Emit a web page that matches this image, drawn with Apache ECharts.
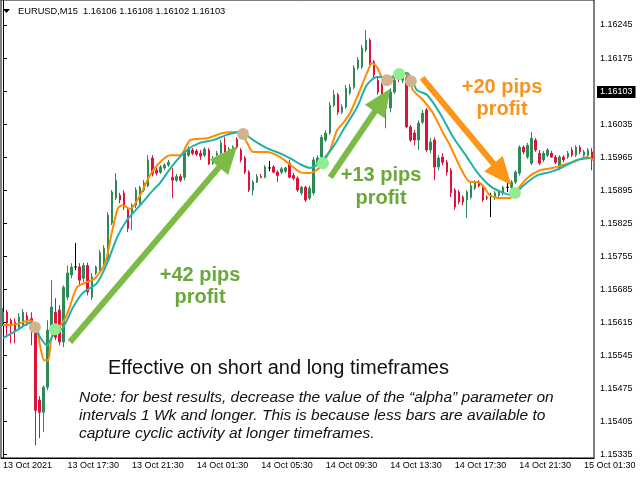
<html>
<head>
<meta charset="UTF-8">
<script src="https://cdn.jsdelivr.net/npm/echarts@6/dist/echarts.min.js"></script>
<style>
html,body{margin:0;padding:0;background:#fff;}
#chart{width:640px;height:480px;}
</style>
</head>
<body>
<div id="chart"></div>
<script type="text/javascript">
// EURUSD M15 candles: [open, close, low, high]
var candles = [
  [1.15615,1.15636,1.15607,1.15645],[1.15636,1.15613,1.15587,1.15641],[1.15619,1.15607,1.15570,1.15623],[1.15615,1.15598,1.15570,1.15623],
  [1.15604,1.15626,1.15598,1.15634],[1.15609,1.15636,1.15602,1.15643],[1.15628,1.15615,1.15607,1.15636],[1.15623,1.15604,1.15566,1.15636],
  [1.15604,1.15428,1.15354,1.15609],[1.15450,1.15424,1.15369,1.15458],[1.15424,1.15477,1.15382,1.15481],[1.15477,1.15598,1.15471,1.15619],
  [1.15598,1.15647,1.15594,1.15704],[1.15636,1.15583,1.15577,1.15666],[1.15641,1.15573,1.15566,1.15651],[1.15573,1.15689,1.15562,1.15693],
  [1.15668,1.15719,1.15662,1.15735],[1.15715,1.15732,1.15708,1.15740],[1.15732,1.15732,1.15725,1.15783],[1.15732,1.15704,1.15693,1.15740],
  [1.15708,1.15735,1.15700,1.15741],[1.15735,1.15679,1.15672,1.15741],[1.15668,1.15711,1.15662,1.15719],[1.15719,1.15732,1.15715,1.15735],
  [1.15725,1.15762,1.15719,1.15768],[1.15740,1.15772,1.15734,1.15778],[1.15747,1.15842,1.15741,1.15848],[1.15825,1.15891,1.15821,1.15895],
  [1.15878,1.15916,1.15874,1.15931],[1.15884,1.15874,1.15867,1.15889],[1.15889,1.15859,1.15853,1.15895],[1.15853,1.15814,1.15806,1.15859],
  [1.15846,1.15863,1.15810,1.15867],[1.15863,1.15895,1.15857,1.15901],[1.15867,1.15901,1.15863,1.15904],[1.15895,1.15910,1.15891,1.15916],
  [1.15904,1.15959,1.15901,1.15969],[1.15963,1.15929,1.15924,1.15969],[1.15937,1.15931,1.15926,1.15942],[1.15933,1.15944,1.15929,1.15948],
  [1.15942,1.15948,1.15937,1.15952],[1.15948,1.15954,1.15944,1.15959],[1.15922,1.15916,1.15878,1.15942],[1.15916,1.15924,1.15912,1.15929],
  [1.15924,1.15916,1.15912,1.15929],[1.15922,1.15976,1.15916,1.15980],[1.15969,1.15982,1.15965,1.15988],[1.15980,1.15973,1.15969,1.15984],
  [1.15978,1.15971,1.15967,1.15982],[1.15973,1.15967,1.15959,1.15980],[1.15969,1.15982,1.15965,1.15986],[1.15980,1.15950,1.15948,1.15984],
  [1.15952,1.15963,1.15948,1.15967],[1.15969,1.15973,1.15967,1.15978],[1.15973,1.15995,1.15969,1.16001],[1.15990,1.15973,1.15969,1.16007],
  [1.15976,1.15982,1.15971,1.15986],[1.15980,1.15986,1.15976,1.15990],[1.16003,1.15986,1.15982,1.16007],[1.15980,1.15959,1.15954,1.15984],
  [1.15963,1.15933,1.15929,1.15967],[1.15933,1.15895,1.15891,1.15937],[1.15895,1.15912,1.15884,1.15916],[1.15912,1.15924,1.15910,1.15929],
  [1.15924,1.15922,1.15920,1.15929],[1.15922,1.15944,1.15920,1.15948],[1.15942,1.15942,1.15935,1.15957],[1.15944,1.15933,1.15931,1.15948],
  [1.15933,1.15926,1.15912,1.15937],[1.15933,1.15940,1.15929,1.15944],[1.15935,1.15942,1.15931,1.15944],[1.15952,1.15922,1.15920,1.15959],
  [1.15926,1.15920,1.15916,1.15931],[1.15920,1.15895,1.15891,1.15924],[1.15889,1.15901,1.15884,1.15904],[1.15901,1.15874,1.15870,1.15904],
  [1.15878,1.15899,1.15874,1.15904],[1.15889,1.15959,1.15884,1.15965],[1.15952,1.15963,1.15948,1.15969],[1.15965,1.16007,1.15959,1.16012],
  [1.16001,1.16016,1.15997,1.16022],[1.16016,1.16075,1.16012,1.16082],[1.16075,1.16097,1.16071,1.16107],[1.16097,1.16060,1.16054,1.16101],
  [1.16060,1.16071,1.16056,1.16077],[1.16071,1.16111,1.16067,1.16118],[1.16101,1.16113,1.16097,1.16120],[1.16113,1.16154,1.16109,1.16160],
  [1.16154,1.16171,1.16150,1.16177],[1.16156,1.16196,1.16152,1.16203],[1.16192,1.16213,1.16188,1.16234],[1.16213,1.16164,1.16160,1.16217],
  [1.16167,1.16139,1.16133,1.16171],[1.16128,1.16103,1.16097,1.16133],[1.16118,1.16097,1.16092,1.16122],[1.16069,1.16097,1.16026,1.16101],
  [1.16069,1.16103,1.16060,1.16111],[1.16103,1.16128,1.16099,1.16135],[1.16141,1.16130,1.16124,1.16145],[1.16128,1.16143,1.16122,1.16150],
  [1.16133,1.16029,1.16026,1.16139],[1.16029,1.16001,1.15997,1.16033],[1.16016,1.16001,1.15990,1.16022],[1.16001,1.16037,1.15980,1.16043],
  [1.16039,1.16058,1.16035,1.16065],[1.16065,1.15980,1.15976,1.16069],[1.15980,1.15997,1.15973,1.16005],[1.16001,1.15944,1.15916,1.16007],
  [1.15944,1.15963,1.15937,1.15969],[1.15965,1.15954,1.15948,1.15973],[1.15954,1.15933,1.15926,1.15959],[1.15937,1.15889,1.15880,1.15942],
  [1.15895,1.15859,1.15853,1.15899],[1.15891,1.15870,1.15865,1.15895],[1.15880,1.15870,1.15863,1.15884],[1.15874,1.15891,1.15836,1.15895],
  [1.15880,1.15904,1.15876,1.15910],[1.15899,1.15912,1.15895,1.15916],[1.15912,1.15904,1.15901,1.15916],[1.15901,1.15874,1.15870,1.15904],
  [1.15880,1.15878,1.15874,1.15884],[1.15884,1.15884,1.15838,1.15889],[1.15878,1.15889,1.15874,1.15893],[1.15884,1.15891,1.15880,1.15895],
  [1.15889,1.15901,1.15884,1.15904],[1.15901,1.15901,1.15891,1.15910],[1.15901,1.15912,1.15897,1.15916],[1.15912,1.15933,1.15908,1.15937],
  [1.15931,1.15986,1.15926,1.15990],[1.15986,1.15976,1.15971,1.15990],[1.15965,1.15990,1.15961,1.15995],[1.15952,1.16005,1.15948,1.16018],
  [1.16001,1.15980,1.15976,1.16005],[1.15973,1.15952,1.15948,1.15980],[1.15959,1.15973,1.15954,1.15978],[1.15969,1.15980,1.15965,1.15984],
  [1.15973,1.15965,1.15963,1.15978],[1.15965,1.15954,1.15950,1.15969],[1.15942,1.15965,1.15937,1.15969],[1.15965,1.15959,1.15954,1.15969],
  [1.15965,1.15973,1.15961,1.15978],[1.15980,1.15969,1.15965,1.15986],[1.15969,1.15986,1.15965,1.15990],[1.15986,1.15976,1.15971,1.15990],
  [1.15969,1.15976,1.15965,1.15980],[1.15969,1.15980,1.15965,1.15984],[1.15976,1.15959,1.15937,1.15984]
];

// fast (orange) and slow (teal) indicator lines: [bar index, price]
var fastLine = [
  [0,1.15609],[1.7,1.15609],[4.2,1.15613],[6.7,1.15619],[8.4,1.15598],[9.4,1.15556],[10.2,1.15534],[11.2,1.15534],
  [11.9,1.15577],[12.9,1.15602],[14.1,1.15607],[15.4,1.15623],[16.6,1.15649],[18.3,1.15689],[20.3,1.15698],[22.8,1.15708],
  [25.3,1.15740],[27.0,1.15806],[28.5,1.15857],[29.7,1.15863],[31.5,1.15855],[34.0,1.15884],[36.4,1.15926],[38.9,1.15954],
  [41.4,1.15969],[43.9,1.15969],[46.4,1.16001],[50.6,1.16005],[54.5,1.16016],[58.8,1.16018],[60.5,1.15995],[62.0,1.15976],
  [65.4,1.15976],[68.7,1.15965],[71.9,1.15944],[73.6,1.15933],[76.1,1.15931],[78.6,1.15944],[81.1,1.15980],[82.8,1.16022],
  [84.3,1.16037],[86.0,1.16058],[88.5,1.16107],[90.2,1.16143],[91.5,1.16164],[92.7,1.16156],[94.0,1.16133],[95.9,1.16128],
  [98.4,1.16143],[100.2,1.16139],[101.6,1.16107],[104.1,1.16086],[106.6,1.16058],[109.1,1.16016],[110.8,1.15990],[113.3,1.15944],
  [115.8,1.15912],[117.5,1.15912],[119.0,1.15904],[120.7,1.15884],[123.2,1.15878],[125.7,1.15878],[127.4,1.15895],[129.9,1.15920],
  [133.1,1.15937],[136.3,1.15942],[138.8,1.15948],[141.3,1.15954],[144.8,1.15965],[146.3,1.15959]
];
var slowLine = [
  [0,1.15581],[3.5,1.15598],[6.7,1.15613],[7.9,1.15607],[9.2,1.15583],[10.9,1.15566],[12.4,1.15587],[14.9,1.15604],
  [17.4,1.15647],[19.8,1.15677],[23.3,1.15698],[25.8,1.15740],[28.3,1.15795],[30.7,1.15831],[34.0,1.15863],[37.2,1.15895],
  [38.9,1.15910],[42.1,1.15948],[45.6,1.15980],[48.8,1.15995],[52.1,1.16001],[55.5,1.16012],[58.8,1.16018],[62.0,1.16001],
  [65.4,1.15984],[68.7,1.15973],[71.9,1.15959],[73.6,1.15950],[76.1,1.15942],[78.6,1.15954],[81.8,1.15986],[84.3,1.16022],
  [87.8,1.16071],[90.2,1.16118],[92.7,1.16135],[95.2,1.16133],[97.7,1.16139],[100.2,1.16143],[102.6,1.16107],[105.1,1.16097],
  [108.3,1.16058],[111.6,1.16007],[115.0,1.15965],[117.5,1.15933],[120.7,1.15904],[124.0,1.15889],[126.4,1.15884],[128.9,1.15904],
  [132.4,1.15926],[135.6,1.15933],[138.8,1.15944],[142.3,1.15959],[145.5,1.15963]
];

// cross markers
var exitDots = [[7.9,1.15604],[59.5,1.16014],[95.2,1.16128],[101.1,1.16126]];
var entryDots = [[12.9,1.15600],[79.3,1.15952],[98.2,1.16141],[126.9,1.15889]];

// annotation arrows: [from, to] in [bar index, price]
var greenArrows = [
  [[16.6,1.15573],[55.8,1.15966]],
  [[81.1,1.15922],[94.1,1.16086]]
];
var orangeArrows = [
  [[103.9,1.16133],[123.8,1.15928]]
];

var yTicks = [1.15335,1.15405,1.15475,1.15545,1.15615,1.15685,1.15755,1.15825,1.15895,1.15965,1.16035,1.16105,1.16175,1.16245];
var yLabels = [1.15335,1.15405,1.15475,1.15545,1.15615,1.15685,1.15755,1.15825,1.15895,1.15965,1.16035,1.16175,1.16245];
var xTickLabels = ['13 Oct 2021','13 Oct 17:30','13 Oct 21:30','14 Oct 01:30','14 Oct 05:30','14 Oct 09:30','14 Oct 13:30','14 Oct 17:30','14 Oct 21:30','15 Oct 01:30'];
var lastPrice = 1.16103;
var yMin = 1.15327, yMax = 1.16298;

var FONT = '"Liberation Sans", Arial, sans-serif';

var categories = [];
var t0 = Date.UTC(2021, 9, 13, 13, 30);
for (var i = 0; i < candles.length; i++) {
  var d = new Date(t0 + i * 15 * 60000);
  categories.push(d.getUTCDate() + ' Oct ' + ('0' + d.getUTCHours()).slice(-2) + ':' + ('0' + d.getUTCMinutes()).slice(-2));
}

var candleData = candles.map(function (c) {
  if (c[0] === c[1]) {
    return { value: c, itemStyle: { color: '#000', color0: '#000', borderColor: '#000', borderColor0: '#000' } };
  }
  return c;
});

function everyTick(index) { return index % 16 === 0; }

function arrowLines(list) {
  return list.map(function (a) { return [{ coord: a[0] }, { coord: a[1] }]; });
}

var graphics = [
  { type: 'polygon', shape: { points: [[3, 9], [10, 9], [6.5, 13]] }, style: { fill: '#000' } },
  { type: 'text', x: 18, y: 11, style: { text: 'EURUSD,M15  1.16106 1.16108 1.16102 1.16103', fill: '#000', font: '9.3px ' + FONT, verticalAlign: 'middle' } },
  { type: 'text', x: 200, y: 286, z: 10, style: { text: '+42 pips\nprofit', fill: '#6aa83c', font: 'bold 20px ' + FONT, align: 'center', verticalAlign: 'middle', lineHeight: 22 } },
  { type: 'text', x: 381, y: 187, z: 10, style: { text: '+13 pips\nprofit', fill: '#6aa83c', font: 'bold 20px ' + FONT, align: 'center', verticalAlign: 'middle', lineHeight: 23 } },
  { type: 'text', x: 502, y: 98, z: 10, style: { text: '+20 pips\nprofit', fill: '#f7931e', font: 'bold 20px ' + FONT, align: 'center', verticalAlign: 'middle', lineHeight: 22 } },
  { type: 'text', x: 108, y: 368, z: 10, style: { text: 'Effective on short and long timeframes', fill: '#111', font: '20px ' + FONT, verticalAlign: 'middle' } },
  { type: 'text', x: 79, y: 389, z: 10, style: {
    text: 'Note: for best results, decrease the value of the \u201calpha\u201d parameter on\nintervals 1 Wk and longer. This is because less bars are available to\ncapture cyclic activity at longer timeframes.',
    fill: '#111', font: 'italic 15.5px ' + FONT, verticalAlign: 'top', lineHeight: 18 } }
];

var myChart = echarts.init(document.getElementById('chart'));
myChart.setOption({
  animation: false,
  backgroundColor: '#fff',
  grid: { left: 1, right: 46, top: 0, bottom: 22, show: true, borderColor: '#000', borderWidth: 1 },
  xAxis: [
    {
      type: 'category',
      data: categories,
      boundaryGap: true,
      axisLine: { lineStyle: { color: '#000' } },
      axisTick: { alignWithLabel: true, interval: everyTick, length: 4, lineStyle: { color: '#000' } },
      axisLabel: {
        interval: everyTick,
        align: 'left',
        margin: 3,
        color: '#000',
        fontSize: 9,
        fontFamily: FONT,
        formatter: function (v, idx) { return xTickLabels[idx / 16] || ''; }
      },
      splitLine: { show: false }
    },
    { type: 'value', min: -0.5, max: 146.5, show: false }
  ],
  yAxis: {
    type: 'value',
    position: 'right',
    min: yMin,
    max: yMax,
    axisLine: { show: true, lineStyle: { color: '#000' } },
    axisTick: { show: true, length: 4, customValues: yTicks, lineStyle: { color: '#000' } },
    axisLabel: {
      customValues: yLabels,
      margin: 6,
      color: '#000',
      fontSize: 9,
      fontFamily: FONT,
      formatter: function (v) { return v.toFixed(5); }
    },
    splitLine: { show: false }
  },
  series: [
    {
      type: 'candlestick',
      xAxisIndex: 0,
      data: candleData,
      barWidth: 2,
      z: 2,
      itemStyle: { color: '#2e8b57', color0: '#dc143c', borderColor: '#2e8b57', borderColor0: '#dc143c', borderWidth: 1 }
    },
    {
      type: 'line', xAxisIndex: 1, data: fastLine, showSymbol: false, smooth: 0.25, z: 3,
      lineStyle: { color: '#ff8c00', width: 2 }
    },
    {
      type: 'line', xAxisIndex: 1, data: slowLine, showSymbol: false, smooth: 0.25, z: 3,
      lineStyle: { color: '#20b2aa', width: 2 }
    },
    {
      type: 'scatter', xAxisIndex: 1, data: exitDots, symbolSize: 12, z: 4,
      itemStyle: { color: '#d2b48c', opacity: 1 }
    },
    {
      type: 'scatter', xAxisIndex: 1, data: entryDots, symbolSize: 12, z: 4,
      itemStyle: { color: '#90ee90', opacity: 1 }
    },
    {
      type: 'line', xAxisIndex: 1, data: [], z: 5,
      markLine: {
        silent: true, symbol: ['none', 'triangle'], symbolSize: [24, 28],
        label: { show: false },
        lineStyle: { color: '#7cbb45', width: 6, type: 'solid' },
        itemStyle: { color: '#7cbb45' },
        data: arrowLines(greenArrows)
      }
    },
    {
      type: 'line', xAxisIndex: 1, data: [], z: 5,
      markLine: {
        silent: true, symbol: ['none', 'triangle'], symbolSize: [24, 28],
        label: { show: false },
        lineStyle: { color: '#fb9618', width: 6, type: 'solid' },
        itemStyle: { color: '#fb9618' },
        data: arrowLines(orangeArrows)
      }
    }
  ],
  graphic: graphics
});

// current price tag next to the price axis, placed through the y scale
var tagY = myChart.convertToPixel({ yAxisIndex: 0 }, lastPrice);
graphics.push({
  type: 'text', x: 597, y: tagY, z: 10,
  style: { text: lastPrice.toFixed(5), fill: '#fff', backgroundColor: '#000', padding: [2, 3, 1, 3], font: '9px ' + FONT, verticalAlign: 'middle' }
});
myChart.setOption({ graphic: graphics });
</script>
</body>
</html>
